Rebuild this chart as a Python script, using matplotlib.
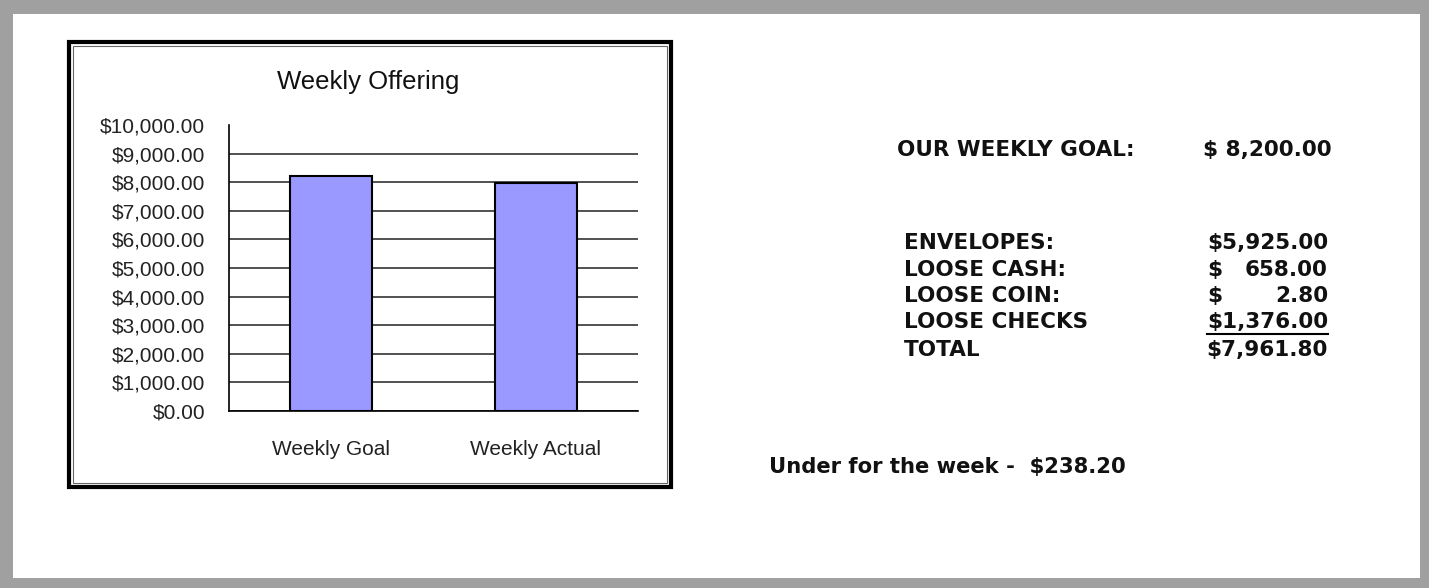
import matplotlib
matplotlib.use('Agg')
import matplotlib.pyplot as plt
import matplotlib.ticker as ticker
from matplotlib.patches import Rectangle
from matplotlib.lines import Line2D

categories = ['Weekly Goal', 'Weekly Actual']
values = [8200.00, 7961.80]
y_ticks = [0, 1000, 2000, 3000, 4000, 5000, 6000, 7000, 8000, 9000, 10000]

goal_label = 'OUR WEEKLY GOAL:'
goal_value = '$ 8,200.00'
item_labels = ['ENVELOPES:', 'LOOSE CASH:', 'LOOSE COIN:', 'LOOSE CHECKS', 'TOTAL']
item_amounts = [5925.00, 658.00, 2.80, 1376.00, 7961.80]
summary = 'Under for the week -  $238.20'

W, H = 1429, 588
fig = plt.figure(figsize=(W / 100, H / 100), dpi=100)
fig.patch.set_facecolor('white')


def fx(px):
    return px / W


def fy(py):
    return 1 - py / H


# grey page border
border = '#a0a0a0'
for (x0, y0, w, h) in [(0, 0, 13, H), (0, 0, W, 14), (1420, 0, 9, H), (0, 578, W, 10)]:
    fig.patches.append(Rectangle((fx(x0), fy(y0 + h)), w / W, h / H, transform=fig.transFigure,
                                 facecolor=border, edgecolor='none'))

# chart frame (thick outer + thin inner)
fig.patches.append(Rectangle((fx(69), fy(487)), 602 / W, 445 / H, transform=fig.transFigure,
                             facecolor='none', edgecolor='black', lw=3))
fig.patches.append(Rectangle((fx(73), fy(483)), 594 / W, 437 / H, transform=fig.transFigure,
                             facecolor='none', edgecolor='#666666', lw=0.8))

ax = fig.add_axes([fx(229), fy(411), 409 / W, 286 / H])
ax.bar([0.5, 1.5], values, width=0.4, color='#9999ff', edgecolor='black', lw=1.5, zorder=3)
ax.set_xlim(0, 2)
ax.set_ylim(0, 10000)
ax.set_yticks(y_ticks)
ax.yaxis.set_major_formatter(ticker.StrMethodFormatter('${x:,.2f}'))
ax.set_xticks([0.5, 1.5])
ax.set_xticklabels(categories)
ax.tick_params(axis='y', length=0, pad=17, labelsize=15, labelcolor='#222222')
ax.tick_params(axis='x', length=0, pad=21, labelsize=15, labelcolor='#222222')
for lab in ax.get_xticklabels() + ax.get_yticklabels():
    lab.set_family('Liberation Sans')
ax.grid(axis='y', color='#333333', lw=1.2)
ax.get_ygridlines()[-1].set_visible(False)
ax.set_axisbelow(True)
for s in ['top', 'right']:
    ax.spines[s].set_visible(False)
for s in ['left', 'bottom']:
    ax.spines[s].set_linewidth(1.2)

fig.text(fx(368), fy(82), 'Weekly Offering', ha='center', va='center', size=18.5,
         family='Liberation Sans', color='#111111')

# right-hand summary
bold = dict(family='DejaVu Sans', weight='bold', size=15.5, va='center', color='#111111')
fig.text(fx(897), fy(150), goal_label, ha='left', **bold)
fig.text(fx(1332), fy(150), goal_value, ha='right', **bold)

row_y = [243, 270, 296, 322, 350]
for lab, amt, y in zip(item_labels, item_amounts, row_y):
    fig.text(fx(904), fy(y), lab, ha='left', **bold)
    if amt < 1000 and lab != 'TOTAL':
        fig.text(fx(1207), fy(y), '$', ha='left', **bold)
        t = fig.text(fx(1328), fy(y), f'{amt:,.2f}', ha='right', **bold)
    else:
        t = fig.text(fx(1328), fy(y), f'${amt:,.2f}', ha='right', **bold)
    if lab == 'LOOSE CHECKS':
        fig.canvas.draw()
        bb = t.get_window_extent().transformed(fig.transFigure.inverted())
        fig.lines.append(Line2D([bb.x0, bb.x1], [fy(y + 12)] * 2, transform=fig.transFigure,
                                color='black', lw=1.5))

fig.text(fx(769), fy(467), summary, ha='left', family='DejaVu Sans', weight='bold', size=15.2,
         va='center', color='#111111')

fig.savefig('out.png', dpi=100)
